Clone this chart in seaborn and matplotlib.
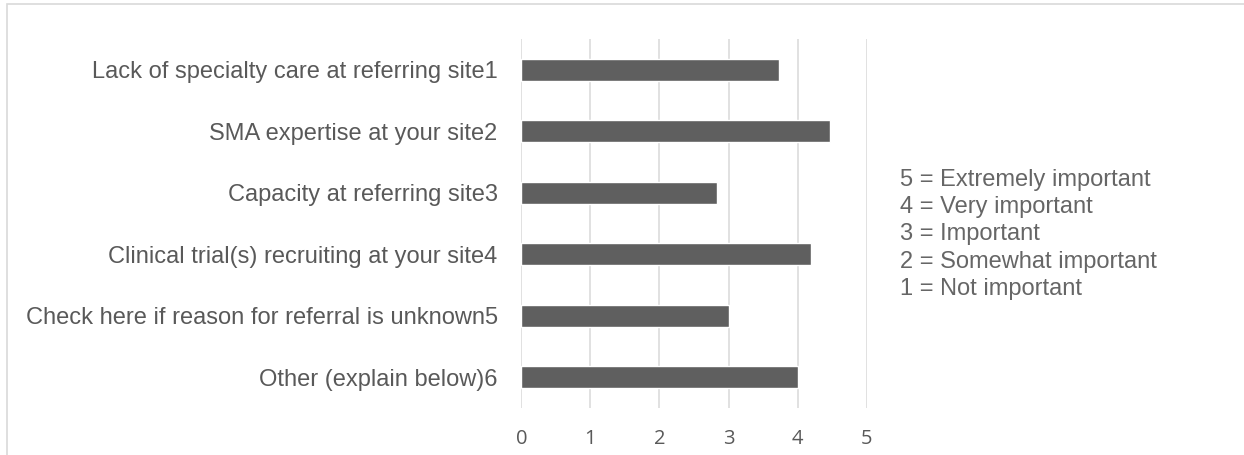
import matplotlib
matplotlib.use("Agg")
import matplotlib.pyplot as plt
import seaborn as sns
import pandas as pd
from matplotlib.patches import Rectangle

# Referral reasons and their mean importance ratings
categories = [
    "Lack of specialty care at referring site1",
    "SMA expertise at your site2",
    "Capacity at referring site3",
    "Clinical trial(s) recruiting at your site4",
    "Check here if reason for referral is unknown5",
    "Other (explain below)6",
]
ratings = [3.73, 4.47, 2.83, 4.2, 3.0, 4.0]
x_ticks = [0, 1, 2, 3, 4, 5]

# Rating scale key
scale_lines = [
    "5 = Extremely important",
    "4 = Very important",
    "3 = Important",
    "2 = Somewhat important",
    "1 = Not important",
]

df = pd.DataFrame({"reason": categories, "rating": ratings})

sns.set_theme(style="white")
plt.rcParams["font.family"] = ["Liberation Sans", "DejaVu Sans"]

W, H = 1244, 455
fig = plt.figure(figsize=(W / 100, H / 100), dpi=100)
fig.patch.set_facecolor("white")

ax_left, ax_right = 521.3 / W, 866.7 / W
ax_top, ax_bottom = 1 - 39 / H, 1 - 408 / H
ax = fig.add_axes([ax_left, ax_bottom, ax_right - ax_left, ax_top - ax_bottom])

sns.barplot(data=df, x="rating", y="reason", orient="h", color="#5f5f5f",
            width=0.35, saturation=1, ax=ax, zorder=3)

ax.set_xlim(0, 5)
ax.set_ylim(5.5, -0.5)
ax.set_xticks(x_ticks)
ax.set_xticklabels([str(t) for t in x_ticks], fontfamily="Open Sans",
                   fontsize=14.5, color="#595959")
ax.tick_params(axis="x", length=0, pad=15)
ax.tick_params(axis="y", length=0, pad=17, labelsize=17, labelcolor="#595959")
ax.set_xlabel("")
ax.set_ylabel("")
for s in ax.spines.values():
    s.set_visible(False)
ax.grid(axis="x", color="#d9d9d9", linewidth=1.1, zorder=0)
ax.grid(axis="y", visible=False)
ax.set_facecolor("white")

# Scale key to the right of the bars
for i, line in enumerate(scale_lines):
    fig.text(900 / W, 1 - (180 + i * 27.2) / H, line, fontsize=17,
             color="#666666", ha="left", va="center")

# Light chart-area frame
frame = Rectangle((6.5 / W, -0.1), 1.2, 1 - 4.5 / H + 0.1,
                  transform=fig.transFigure, fill=False,
                  edgecolor="#d9d9d9", linewidth=1.2, clip_on=False)
fig.patches.append(frame)

fig.savefig("out.png", dpi=100, facecolor="white")
